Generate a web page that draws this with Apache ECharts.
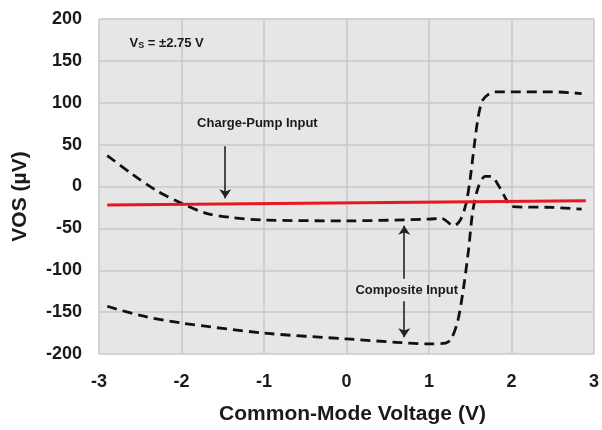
<!DOCTYPE html>
<html>
<head>
<meta charset="UTF-8">
<title>VOS vs Common-Mode Voltage</title>
<style>
html, body { margin: 0; padding: 0; background: #fff; }
#main { width: 602px; height: 430px; }
</style>
</head>
<body>
<div id="main"></div>
<script src="https://cdn.jsdelivr.net/npm/echarts@6/dist/echarts.min.js"></script>
<script>
// tick labels
var xTicks = [-3, -2, -1, 0, 1, 2, 3];
var yTicks = [-200, -150, -100, -50, 0, 50, 100, 150, 200];

// charge-pump input (red, nearly flat)
var chargePumpX = [-2.9, 2.9];
var chargePumpY = [-22, -17];

// composite input, upper dashed curve
var upperX = [-2.9, -2.6, -2.3, -2.0, -1.7, -1.4, -1.0, 0.0, 1.0, 1.15, 1.3, 1.38, 1.45, 1.5, 1.55, 1.6, 1.65, 1.72, 1.8, 2.0, 2.5, 2.85];
var upperY = [37, 15, -5, -20, -32, -37, -40, -41, -39, -38, -47, -40, -20, 10, 50, 85, 103, 110, 113, 113, 113, 111];

// composite input, lower dashed curve
var lowerX = [-2.9, -2.5, -2.0, -1.0, 0.0, 0.6, 1.0, 1.2, 1.27, 1.35, 1.42, 1.48, 1.53, 1.6, 1.68, 1.75, 1.85, 1.95, 2.0, 2.5, 2.85];
var lowerY = [-143, -154, -163, -175, -182, -186, -188, -187, -182, -160, -120, -75, -30, 0, 12, 12, 0, -18, -24, -25, -27];

function pairs(xs, ys) {
	var out = [];
	for (var i = 0; i < xs.length; i++) {
		out.push([xs[i], ys[i]]);
	}
	return out;
}

var font = 'Liberation Sans, Arial, sans-serif';
var myChart = echarts.init(document.getElementById('main'));

var arrowStyle = { color: '#222', width: 1.6, type: 'solid' };

var option = {
	animation: false,
	grid: {
		left: 99, right: 4, top: 19, bottom: 75,
		show: true, backgroundColor: '#e6e6e6', borderWidth: 0
	},
	xAxis: {
		type: 'value', min: -3, max: 3, interval: 1,
		name: 'Common-Mode Voltage (V)', nameLocation: 'middle', nameGap: 50,
		nameTextStyle: { fontFamily: font, fontWeight: 'bold', fontSize: 21, color: '#1a1a1a', padding: [0, 0, 0, 12] },
		axisLine: { show: false }, axisTick: { show: false },
		axisLabel: {
			margin: 19, fontFamily: font, fontWeight: 'bold', fontSize: 18, color: '#1a1a1a',
			formatter: function (v) { return xTicks.indexOf(v) >= 0 ? String(v) : ''; }
		},
		splitLine: { show: true, lineStyle: { color: '#c8c8c8', width: 1.5 } }
	},
	yAxis: {
		type: 'value', min: -200, max: 200, interval: 50,
		name: 'VOS (µV)', nameLocation: 'middle', nameGap: 68,
		nameTextStyle: { fontFamily: font, fontWeight: 'bold', fontSize: 21, color: '#1a1a1a', padding: [0, 20, 0, 0] },
		axisLine: { show: false }, axisTick: { show: false },
		axisLabel: {
			margin: 17, fontFamily: font, fontWeight: 'bold', fontSize: 18, color: '#1a1a1a',
			formatter: function (v) { return yTicks.indexOf(v) >= 0 ? String(v) : ''; }
		},
		splitLine: { show: true, lineStyle: { color: '#c8c8c8', width: 1.5 } }
	},
	series: [{
		name: 'Composite Input (upper)',
		type: 'line', smooth: 0.3, showSymbol: false, silent: true,
		data: pairs(upperX, upperY),
		lineStyle: { color: '#111', width: 2.8, type: [10, 6] }
	}, {
		name: 'Composite Input (lower)',
		type: 'line', smooth: 0.3, showSymbol: false, silent: true,
		data: pairs(lowerX, lowerY),
		lineStyle: { color: '#111', width: 2.8, type: [10, 6] }
	}, {
		name: 'Charge-Pump Input',
		type: 'line', showSymbol: false, silent: true,
		data: pairs(chargePumpX, chargePumpY),
		lineStyle: { color: '#e8161e', width: 3 },
		z: 3,
		markLine: {
			silent: true, symbol: ['none', 'arrow'], symbolSize: 9,
			label: { show: false }, lineStyle: arrowStyle,
			data: [
				[{ coord: [-1.47, 48] }, { coord: [-1.47, -14] }],
				[{ coord: [0.7, -110] }, { coord: [0.7, -47] }],
				[{ coord: [0.7, -137] }, { coord: [0.7, -180] }]
			]
		},
		markPoint: {
			silent: true, symbol: 'circle', symbolSize: 0,
			data: [{
				coord: [-2.18, 171],
				label: {
					show: true, position: 'inside',
					formatter: '{v|V}{s|S}{v| = ±2.75 V}',
					rich: {
						v: { fontFamily: font, fontWeight: 'bold', fontSize: 13, color: '#1a1a1a' },
						s: { fontFamily: font, fontWeight: 'bold', fontSize: 9, color: '#1a1a1a', verticalAlign: 'bottom', padding: [5, 0, 0, 0] }
					}
				}
			}, {
				coord: [-1.08, 75],
				label: {
					show: true, position: 'inside', formatter: 'Charge-Pump Input',
					fontFamily: font, fontWeight: 'bold', fontSize: 13, color: '#1a1a1a'
				}
			}, {
				coord: [0.73, -124],
				label: {
					show: true, position: 'inside', formatter: 'Composite Input',
					fontFamily: font, fontWeight: 'bold', fontSize: 13, color: '#1a1a1a'
				}
			}]
		}
	}]
};
myChart.setOption(option);
</script>
</body>
</html>
